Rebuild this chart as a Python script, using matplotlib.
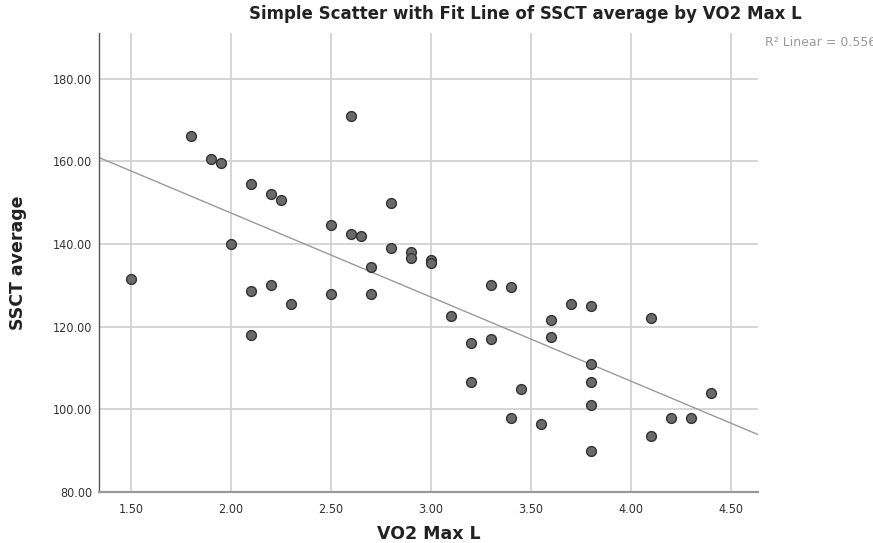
import numpy as np
import matplotlib
matplotlib.use("Agg")
import matplotlib.pyplot as plt

plt.rcParams['font.family'] = ['DejaVu Sans']

# VO2 Max L vs SSCT average
vo2 = [1.50, 1.80, 1.90, 1.95, 2.00, 2.10, 2.10, 2.10, 2.20, 2.20,
       2.25, 2.30, 2.50, 2.50, 2.60, 2.60, 2.65, 2.70, 2.70, 2.80,
       2.80, 2.90, 2.90, 3.00, 3.00, 3.10, 3.20, 3.20, 3.30, 3.30,
       3.40, 3.40, 3.45, 3.55, 3.60, 3.60, 3.70, 3.80, 3.80, 3.80,
       3.80, 3.80, 4.10, 4.10, 4.20, 4.30, 4.40]
ssct = [131.5, 166.0, 160.5, 159.5, 140.0, 154.5, 128.5, 118.0, 152.0, 130.0,
        150.5, 125.5, 144.5, 128.0, 171.0, 142.5, 142.0, 134.5, 128.0, 150.0,
        139.0, 138.0, 136.5, 136.0, 135.5, 122.5, 116.0, 106.5, 130.0, 117.0,
        129.5, 98.0, 105.0, 96.5, 121.5, 117.5, 125.5, 125.0, 111.0, 106.5,
        101.0, 90.0, 122.0, 93.5, 98.0, 98.0, 104.0]
xticks = [1.5, 2.0, 2.5, 3.0, 3.5, 4.0, 4.5]
yticks = [80, 100, 120, 140, 160, 180]
r2_label = "R² Linear = 0.556"

fig = plt.figure(figsize=(8.73, 5.43), dpi=100)
ax = fig.add_axes([0.1134, 0.0939, 0.8683 - 0.1134, 0.9392 - 0.0939])

xmin, xmax = 1.34, 4.635
ax.set_xlim(xmin, xmax)
ax.set_ylim(80, 191)

ax.set_xticks(xticks)
ax.set_yticks(yticks)
ax.set_xticklabels(["%.2f" % t for t in xticks], fontsize=9, color='#333333',
                   fontstretch='condensed')
ax.set_yticklabels(["%.2f" % t for t in yticks], fontsize=9, color='#333333',
                   fontstretch='condensed')
ax.tick_params(axis='x', length=0, pad=8)
ax.tick_params(axis='y', length=0, pad=5)

ax.grid(True, color='#d2d2d2', linewidth=1.3)
ax.set_axisbelow(True)
for s in ['top', 'right']:
    ax.spines[s].set_visible(False)
ax.spines['left'].set_color('#555555')
ax.spines['left'].set_linewidth(1.0)
ax.spines['bottom'].set_color('#999999')
ax.spines['bottom'].set_linewidth(1.6)

# linear fit line
b, a = np.polyfit(vo2, ssct, 1)
xs = np.array([xmin, xmax])
ax.plot(xs, a + b * xs, color='#9a9a9a', linewidth=1.0, zorder=2)

ax.scatter(vo2, ssct, s=50, facecolor='#6a6a6a', edgecolor='#333333',
           linewidth=1.0, zorder=3)

fig.text(525 / 873, 1 - 14 / 543, "Simple Scatter with Fit Line of SSCT average by VO2 Max L",
         ha='center', va='center', fontsize=12, fontweight='bold', color='#222222')
fig.text(765 / 873, 1 - 43 / 543, r2_label, ha='left', va='center',
         fontsize=9, color='#999999')
ax.set_xlabel("VO2 Max L", fontsize=12.5, fontweight='bold', color='#222222', va='center')
ax.xaxis.set_label_coords(0.5, -42 / 459)
ax.set_ylabel("SSCT average", fontsize=12.5, fontweight='bold', color='#222222', va='center')
ax.yaxis.set_label_coords(-81 / 659, 0.5)

fig.savefig("out.png", dpi=100)
